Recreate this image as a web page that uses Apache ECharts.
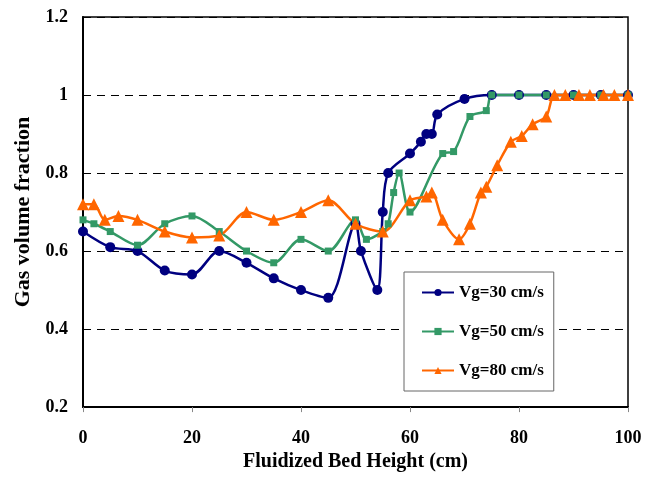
<!DOCTYPE html>
<html>
<head>
<meta charset="utf-8">
<script src="https://cdn.jsdelivr.net/npm/echarts@6/dist/echarts.min.js"></script>
<style>html,body{margin:0;padding:0;background:#fff}#c{width:657px;height:477px}</style>
</head>
<body>
<div id="c"></div>
<script>
var seriesNames = ['Vg=30 cm/s', 'Vg=50 cm/s', 'Vg=80 cm/s'];
var x30 = [0,5,10,15,20,25,30,35,40,45,50,51,54,55,56,60,62,63,64,65,70,75,80,85,90,95,100];
var y30 = [0.65,0.61,0.60,0.55,0.54,0.60,0.57,0.53,0.50,0.48,0.67,0.60,0.50,0.70,0.80,0.85,0.88,0.90,0.90,0.95,0.99,1.0,1.0,1.0,1.0,1.0,1.0];
var x50 = [0,2,5,10,15,20,25,30,35,40,45,50,52,55,56,57,58,60,66,68,71,74,75,80,85,90,95,100];
var y50 = [0.68,0.67,0.65,0.615,0.67,0.69,0.65,0.60,0.57,0.63,0.60,0.68,0.63,0.65,0.67,0.75,0.80,0.70,0.85,0.855,0.945,0.96,1.0,1.0,1.0,1.0,1.0,1.0];
var x80 = [0,2,4,6.5,10,15,20,25,30,35,40,45,50,55,60,63,64,66,69,71,73,74,76,78.5,80.5,82.5,85,86.5,88.5,91,93,95.5,97.5,100];
var y80 = [0.72,0.72,0.68,0.69,0.68,0.65,0.635,0.64,0.70,0.68,0.70,0.73,0.67,0.65,0.73,0.74,0.75,0.68,0.63,0.67,0.75,0.765,0.82,0.88,0.895,0.925,0.945,1.0,1.0,1.0,1.0,1.0,1.0,1.0];

function pairs(xs, ys){ return xs.map(function(x,i){ return [x, ys[i]]; }); }
var font = 'Liberation Serif';
var chart = echarts.init(document.getElementById('c'));
chart.setOption({
  animation: false,
  grid: {left: 83, right: 29, top: 17, bottom: 68, show: true, borderColor: '#000', borderWidth: 1.5, backgroundColor: 'transparent'},
  legend: {
    orient: 'vertical', left: 404, top: 272,
    backgroundColor: '#fff', borderColor: '#666', borderWidth: 1,
    padding: [12, 10, 12, 17], itemGap: 22, itemWidth: 32, itemHeight: 9,
    textStyle: {fontFamily: font, fontWeight: 'bold', fontSize: 17, color: '#000'},
    data: seriesNames
  },
  xAxis: {
    type: 'value', min: 0, max: 100, interval: 20,
    name: 'Fluidized Bed Height (cm)', nameLocation: 'middle', nameGap: 44,
    nameTextStyle: {fontFamily: font, fontWeight: 'bold', fontSize: 20, color: '#000'},
    axisLine: {lineStyle: {color: '#000', width: 2}},
    axisTick: {show: true, length: 5, lineStyle: {color: '#888'}},
    axisLabel: {margin: 22, fontFamily: font, fontWeight: 'bold', fontSize: 18, color: '#000'},
    splitLine: {show: false}
  },
  yAxis: {
    type: 'value', min: 0.2, max: 1.2, interval: 0.2,
    name: 'Gas volume fraction', nameLocation: 'middle', nameGap: 46,
    nameTextStyle: {fontFamily: font, fontWeight: 'bold', fontSize: 22, color: '#000'},
    axisLine: {show: true, lineStyle: {color: '#000', width: 2}},
    axisTick: {show: false},
    axisLabel: {margin: 15, fontFamily: font, fontWeight: 'bold', fontSize: 18, color: '#000'},
    splitLine: {show: true, lineStyle: {color: '#000', type: [8, 6], width: 1}}
  },
  series: [
    {name: seriesNames[0], type: 'line', smooth: 0.3, data: pairs(x30, y30),
     symbol: 'circle', symbolSize: 10, color: '#000080', lineStyle: {width: 2.5, color: '#000080'},
     itemStyle: {color: '#000080'}},
    {name: seriesNames[1], type: 'line', smooth: 0.3, data: pairs(x50, y50),
     symbol: 'rect', symbolSize: 7, color: '#339966', lineStyle: {width: 2.5, color: '#339966'},
     itemStyle: {color: '#339966'}},
    {name: seriesNames[2], type: 'line', smooth: 0.3, data: pairs(x80, y80),
     symbol: 'triangle', symbolSize: 12, color: '#FF6600', lineStyle: {width: 2.5, color: '#FF6600'},
     itemStyle: {color: '#FF6600'}}
  ]
});
</script>
</body>
</html>
